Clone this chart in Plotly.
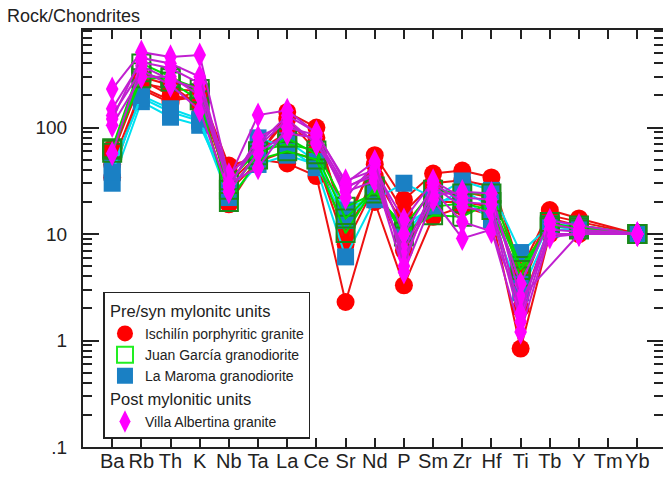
import plotly.graph_objects as go

categories = ["Ba", "Rb", "Th", "K", "Nb", "Ta", "La", "Ce", "Sr", "Nd",
              "P", "Sm", "Zr", "Hf", "Ti", "Tb", "Y", "Tm", "Yb"]

y_tick_vals = [0.1, 1, 10, 100]
y_tick_text = [".1", "1", "10", "100"]
y_minor_vals = [0.2, 0.3, 0.4, 0.5, 0.6, 0.7, 0.8, 0.9,
                2, 3, 4, 5, 6, 7, 8, 9,
                20, 30, 40, 50, 60, 70, 80, 90,
                200, 300, 400, 500, 600, 700, 800]

# Rock/Chondrite normalised values, one list per sample (None = not analysed)
ischilin = [
    [64, 260, 230, 220, 44, 52, 140, 100, 11, 55, 21, 37, 39.5, 34, 4.5, 16.8, 14, None, 10],
    [34, 240, 180, 195, 19, 50, 46, 35, 2.3, 20, 3.3, 14.5, 18, 15, 0.84, 10, 10, None, 10],
    [55, 280, 200, 180, 30, 55, 120, 60, 9.5, 35, 12, 25, 25, 22, 3, 14, 12, None, 10],
    [45, 230, 170, 230, 25, 48, 60, 50, 8, 28, 7, 20, 20, 18, 2, 12, 11, None, 10],
    [60, 300, 250, 160, 38, 60, 90, 80, 14, 45, 16, 30, 32, 28, 4, 15, 13, None, 10],
]
juan_garcia = [
    [64, 400, 300, 210, 32, 60, 70, 61, 18, 24, 11.7, 26, 24, 24, 5, 11.6, 12, None, 10],
    [58, 330, 270, 180, 20, 50, 60, 50, 10.2, 28, 9.5, 18, 19.5, 16.8, 4, 13, 11, None, 10],
    [62, 290, 290, 230, 26, 55, 80, 56, 14, 26, 10.5, 15, 14.5, 20, 4.6, 12, 11.5, None, 10],
]
la_maroma = [
    [30, 175, 125, 105, 27, 80, 65, 42, 6.1, 21, 30, 22, 31.5, 25.7, 6.7, 12, 11, None, 10],
    [42, 190, 140, 115, 22, 45, 55, 45, 13.4, 25, 10, 20, 22, 13.5, 2.8, 11, 11, None, 10],
    [38, 200, 150, 120, 24, 60, 75, 48, 16.8, 23, 12, 18, 26, 18, 3.5, 12.5, 12, None, 10],
]
villa_albertina = [
    [230, 510, 460, 480, 33, 131, 145, 88, 31.5, 40, 13.5, 31.5, 22, 21, 3.4, 13.4, 12, None, 10],
    [150, 412, 360, 260, 27.5, 81, 110, 73, 25, 31.5, 7, 25.7, 13, 10.6, 2.2, 9.4, 10, None, 10],
    [130, 346, 250, 146, 25, 58, 88, 80, 28, 35, 4.4, 21, 9.1, 11, 1.2, 10, 10, None, 10],
    [105, 300, 300, 200, 30, 42, 100, 85, 22, 45, 10, 28, 18, 16, 1.5, 11, 10.5, None, 10],
    [57, 380, 280, 230, 36, 65, 120, 70, 27, 38, 6, 23, 25, 24, 2.5, None, 10, None, 10],
    [120, 450, 400, 300, 29, 70, 130, 90, 30, 48, 5, 30, 20, 19, 1.8, 12.5, 11, None, 10],
]

units = [
    dict(name="Ischilín porphyritic granite", data=ischilin, line="#ee1111",
         symbol="circle", size=18, fill="#ff0000", edge="#ff0000", edgew=0,
         leg_symbol="circle", leg_size=17, leg_color="#ff0000", leg_edge="#ff0000", leg_edgew=0,
         group="pre", gtitle="Pre/syn mylonitc units", rank=1),
    dict(name="La Maroma granodiorite", data=la_maroma, line="#00e0f0",
         symbol="square", size=17, fill="#1a80c4", edge="#1a80c4", edgew=0,
         leg_symbol="square", leg_size=16, leg_color="#1a80c4", leg_edge="#1a80c4", leg_edgew=0,
         group="pre", gtitle="Pre/syn mylonitc units", rank=3),
    dict(name="Juan García granodiorite", data=juan_garcia, line="#00dd00",
         symbol="square-open", size=18, fill="#1a8a1a", edge="#1a8a1a", edgew=2,
         leg_symbol="square-open", leg_size=16, leg_color="#22ee22", leg_edge="#22ee22", leg_edgew=2,
         group="pre", gtitle="Pre/syn mylonitc units", rank=2),
    dict(name="Villa Albertina granite", data=villa_albertina, line="#c020d0",
         symbol="diamond-tall", size=18, fill="#ff00ff", edge="#ff00ff", edgew=0,
         leg_symbol="diamond-tall", leg_size=18, leg_color="#ff00ff", leg_edge="#ff00ff", leg_edgew=0,
         group="post", gtitle="Post mylonitic units", rank=4),
]

fig = go.Figure()
for u in units:
    for sample in u["data"]:
        fig.add_trace(go.Scatter(
            x=categories, y=sample, mode="lines+markers", connectgaps=True,
            name=u["name"], legendgroup=u["group"], showlegend=False,
            line=dict(color=u["line"], width=2),
            marker=dict(symbol=u["symbol"], size=u["size"], color=u["fill"],
                        line=dict(color=u["edge"], width=u["edgew"])),
        ))

# legend-only entries (marker symbol only, no line)
for u in units:
    fig.add_trace(go.Scatter(
        x=[None], y=[None], mode="markers", name=u["name"],
        legendgroup=u["group"], legendrank=u["rank"], showlegend=True,
        legendgrouptitle=dict(text=u["gtitle"], font=dict(size=16.5, color="#222")),
        marker=dict(symbol=u["leg_symbol"], size=u["leg_size"], color=u["leg_color"],
                    line=dict(color=u["leg_edge"], width=u["leg_edgew"])),
    ))

fig.add_annotation(text="Rock/Chondrites", xref="paper", yref="paper",
                   x=-0.135, y=1.034, xanchor="left", yanchor="middle",
                   showarrow=False, font=dict(size=18, color="#222"))

fig.update_layout(
    width=663, height=477,
    margin=dict(l=82.5, r=0, t=30, b=30),
    paper_bgcolor="white", plot_bgcolor="white",
    font=dict(family="Liberation Sans, Arial, sans-serif", color="#222"),
    legend=dict(x=0.0353, y=0.372, xanchor="left", yanchor="top",
                bordercolor="#222", borderwidth=1.5, bgcolor="white",
                font=dict(size=14, color="#222"), traceorder="grouped",
                tracegroupgap=0, itemsizing="trace"),
    showlegend=True,
)
fig.update_xaxes(
    type="category", categoryorder="array", categoryarray=categories,
    range=[-1, 18.88], showgrid=False, zeroline=False, automargin=False,
    showline=True, linecolor="#222", linewidth=2, mirror="ticks",
    ticks="inside", ticklen=9, tickwidth=1.5, tickcolor="#222",
    tickangle=0, tickfont=dict(size=20, color="#222"), ticklabelstandoff=-5,
)
fig.update_yaxes(
    type="log", range=[-1, 2.916], showgrid=False, zeroline=False, automargin=False,
    showline=True, linecolor="#222", linewidth=2, mirror="ticks",
    tickmode="array", tickvals=y_tick_vals, ticktext=y_tick_text,
    ticks="inside", ticklen=16, tickwidth=2, tickcolor="#222",
    tickfont=dict(size=19, color="#222"), ticklabelstandoff=10,
    minor=dict(tickmode="array", tickvals=y_minor_vals, ticks="inside",
               ticklen=9, tickwidth=1.5, tickcolor="#222", showgrid=False),
)

fig.write_html("out.html")
